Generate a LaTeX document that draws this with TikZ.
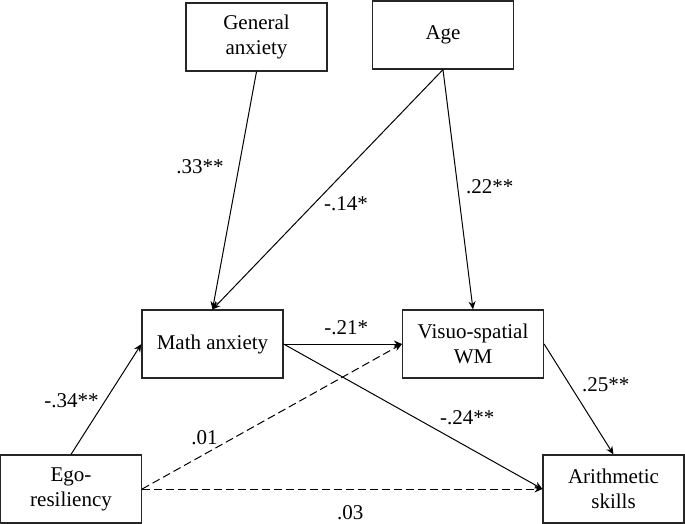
\documentclass[tikz,border=0pt]{standalone}
\usepackage{fontspec}
\setmainfont{Liberation Serif}
\usetikzlibrary{arrows.meta,positioning}

\begin{document}
\begin{tikzpicture}[
  x=0.5pt,y=-0.5pt,
  font=\fontsize{10.5}{12.5}\selectfont,
  var/.style={draw=black!85,fill=white,line width=0.6pt,minimum width=70.5pt,minimum height=34pt,align=center,inner sep=2pt},
  arr/.style={-{Stealth[length=4pt,width=3.5pt]},line width=0.5pt,draw=black},
  darr/.style={arr,dash pattern=on 4pt off 2pt},
  lbl/.style={inner sep=1pt}
]
\useasboundingbox (0,0) rectangle (685,524);
% ---------------- predictors (top row) ----------------
\node[var] (ganx) at (256.5,37) {General\\anxiety};
\node[var] (age) at (443,35) {Age};
% ---------------- mediators (middle row) ----------------
\node[var] (manx) at (212.5,344) {Math anxiety};
\node[var] (vswm) at (473,344) {Visuo-spatial\\WM};
% ---------------- ego-resiliency and outcome (bottom row) ----------------
\node[var] (ego) at (71,489) {Ego-\\resiliency};
\node[var] (arith) at (613.5,489) {Arithmetic\\skills};
% ---------------- paths ----------------
\draw[arr] (ganx.south) -- node[lbl,pos=0.4,xshift=-19.5pt]{.33**} (manx.north);
\draw[arr] (age.south) -- node[lbl,pos=0.56,xshift=16pt]{-.14*} (manx.north);
\draw[arr] (age.south) -- node[lbl,pos=0.49,xshift=16pt]{.22**} (vswm.north);
\draw[arr] (ego.north) -- node[lbl,pos=0.49,xshift=-17pt]{-.34**} (manx.west);
\draw[arr] (manx.east) -- node[lbl,pos=0.53,yshift=8pt]{-.21*} (vswm.west);
\draw[arr] (manx.east) -- node[lbl,pos=0.71,yshift=14.5pt]{-.24**} (arith.west);
\draw[arr] (vswm.east) -- node[lbl,pos=0.37,xshift=18pt]{.25**} (arith.north);
\draw[darr] (ego.east) -- node[lbl,pos=0.24,yshift=8.5pt]{.01} (vswm.west);
\draw[darr] (ego.east) -- node[lbl,pos=0.52,yshift=-12pt]{.03} (arith.west);
\end{tikzpicture}
\end{document}
